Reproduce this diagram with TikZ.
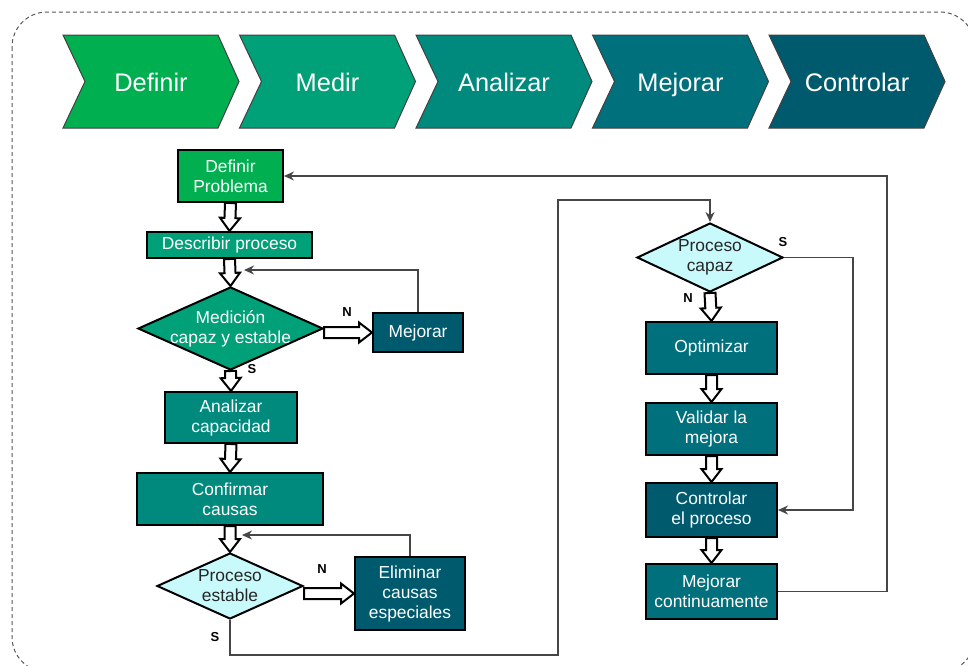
\documentclass[tikz,border=0pt]{standalone}
\usepackage{fontspec}
\setmainfont{Liberation Sans}
\usepackage{tikz}
\usetikzlibrary{arrows.meta,shapes.geometric,calc}

\definecolor{cdef}{RGB}{0,176,80}
\definecolor{cmed}{RGB}{0,160,120}
\definecolor{cana}{RGB}{0,138,126}
\definecolor{cmej}{RGB}{0,112,125}
\definecolor{ccon}{RGB}{0,90,110}
\definecolor{cq}{RGB}{200,250,252}
\definecolor{clink}{RGB}{70,70,70}

% white block arrow from #1 to #2
\newcommand{\blockarrow}[2]{%
  \draw[hollow] let \p1=(#1), \p2=(#2),
    \n1={veclen(\x2-\x1,\y2-\y1)}, \n2={atan2(\y2-\y1,\x2-\x1)} in
    [shift={(\p1)}, rotate=\n2]
    (0pt,2.75pt) -- ({\n1-6.5pt},2.75pt) -- ({\n1-6.5pt},5pt) -- ({\n1+0pt},0pt)
    -- ({\n1-6.5pt},-5pt) -- ({\n1-6.5pt},-2.75pt) -- (0pt,-2.75pt) -- cycle;}

\begin{document}
\begin{tikzpicture}[x=0.5pt, y=-0.5pt, >={Stealth[length=5pt,width=4.5pt]}]
\tikzset{
  border/.style={draw=black!65, dash pattern=on 2pt off 1.5pt, line width=0.5pt, rounded corners=17.5pt},
  chev/.style={draw=black!75, line width=0.5pt},
  chevtext/.style={text=white, font=\fontsize{12.7}{15}\selectfont, text height=9.1pt, text depth=0pt},
  box/.style={draw, line width=1pt, text=white, align=center, inner sep=0pt,
    font=\fontsize{8.7}{10}\selectfont},
  ask/.style={diamond, draw, line width=1pt, align=center, inner xsep=-8pt, inner ysep=0pt,
    aspect=2.2, font=\fontsize{8.7}{10}\selectfont},
  quest/.style={ask, fill=cq, text=black!85},
  hollow/.style={draw=black, fill=white, line width=1pt},
  link/.style={draw=clink, line width=0.65pt},
  tag/.style={font=\fontsize{6.5}{7}\bfseries\selectfont, inner sep=0pt}
}
\useasboundingbox (0,0) rectangle (968,665);
\begin{scope}
\clip (0,0) rectangle (968,665);
\draw[border] (12,12) rectangle (975,672);
\end{scope}

% DMAIC phases
\foreach \i/\lbl/\col in {0/Definir/cdef, 1/Medir/cmed, 2/Analizar/cana, 3/Mejorar/cmej, 4/Controlar/ccon} {
  \draw[chev, fill=\col] ({63+176.5*\i},35) -- ++(155,0) -- ++(21,46.5) -- ++(-21,46.5)
    -- ++(-155,0) -- ++(22,-46.5) -- cycle;
  \node[chevtext] (ph\i) at ({63+176.5*\i+88},82) {\lbl};
}

% left column
\node[box, fill=cdef, minimum width=52.5pt, minimum height=26pt] (dp) at (230.5,176) {Definir\\Problema};
\node[box, fill=cmed, minimum width=82.5pt, minimum height=13pt] (dsc) at (229.5,245) {Describir proceso};
\node[ask, fill=cmed, text=white, minimum width=92.5pt, minimum height=41.5pt] (med) at (230.5,328.5) {Medición\\capaz y estable};
\node[box, fill=ccon, minimum width=45pt, minimum height=19.5pt] (mej) at (418,332.5) {Mejorar};
\node[box, fill=cana, minimum width=66pt, minimum height=25.5pt] (anc) at (231,417.5) {Analizar\\capacidad};
\node[box, fill=cana, minimum width=93pt, minimum height=26pt] (cc) at (230,499) {Confirmar\\causas};
\node[quest, minimum width=73pt, minimum height=33pt] (pe) at (230,586) {Proceso\\estable};
\node[box, fill=ccon, minimum width=55pt, minimum height=36.5pt] (el) at (410,593.5) {Eliminar\\causas\\especiales};

% right column
\node[quest, aspect=2.1, minimum width=73pt, minimum height=34.5pt] (pc) at (710,257.5) {Proceso\\capaz};
\node[box, fill=cmej, minimum width=65.5pt, minimum height=26pt] (op) at (711.5,348) {Optimizar};
\node[box, fill=cmej, minimum width=65.5pt, minimum height=26pt] (va) at (711.5,429) {Validar la\\mejora};
\node[box, fill=ccon, minimum width=65.5pt, minimum height=27pt] (cp) at (711.5,510) {Controlar\\el proceso};
\node[box, fill=cmej, minimum width=65.5pt, minimum height=27.5pt] (mc) at (711.5,591.5) {Mejorar\\continuamente};

% block arrows
\blockarrow{dp.south}{dsc.north}
\blockarrow{dsc.south}{med.north}
\blockarrow{mej.west -| med.east}{mej.west}
\blockarrow{med.south}{anc.north}
\blockarrow{anc.south}{cc.north}
\blockarrow{cc.south}{pe.north}
\blockarrow{el.west -| pe.east}{el.west}
\blockarrow{pc.south}{op.north}
\blockarrow{op.south}{va.north}
\blockarrow{va.south}{cp.north}
\blockarrow{cp.south}{mc.north}

% feedback lines
\coordinate (fb1) at (244,270);
\coordinate (fb2) at (242,535);
\coordinate (low) at (558,655);
\coordinate (up) at (710,200);
\draw[link, ->] (mej.north) |- (fb1);
\draw[link, ->] (el.north) |- (fb2);
\draw[link, ->] (pe.south) |- (low) |- (up) -- (pc.north);
\draw[link, ->] (pc.east) -- ++(69,0) |- (cp.east);
\draw[link, ->] (mc.east) -- ++(109,0) |- (dp.east);

% answers
\node[tag] (n1) at (347,312) {N};
\node[tag] (s1) at (252,369) {S};
\node[tag] (n2) at (322,569) {N};
\node[tag] (s2) at (215,637) {S};
\node[tag] (s3) at (783,242) {S};
\node[tag] (n3) at (688,298) {N};
\end{tikzpicture}
\end{document}
